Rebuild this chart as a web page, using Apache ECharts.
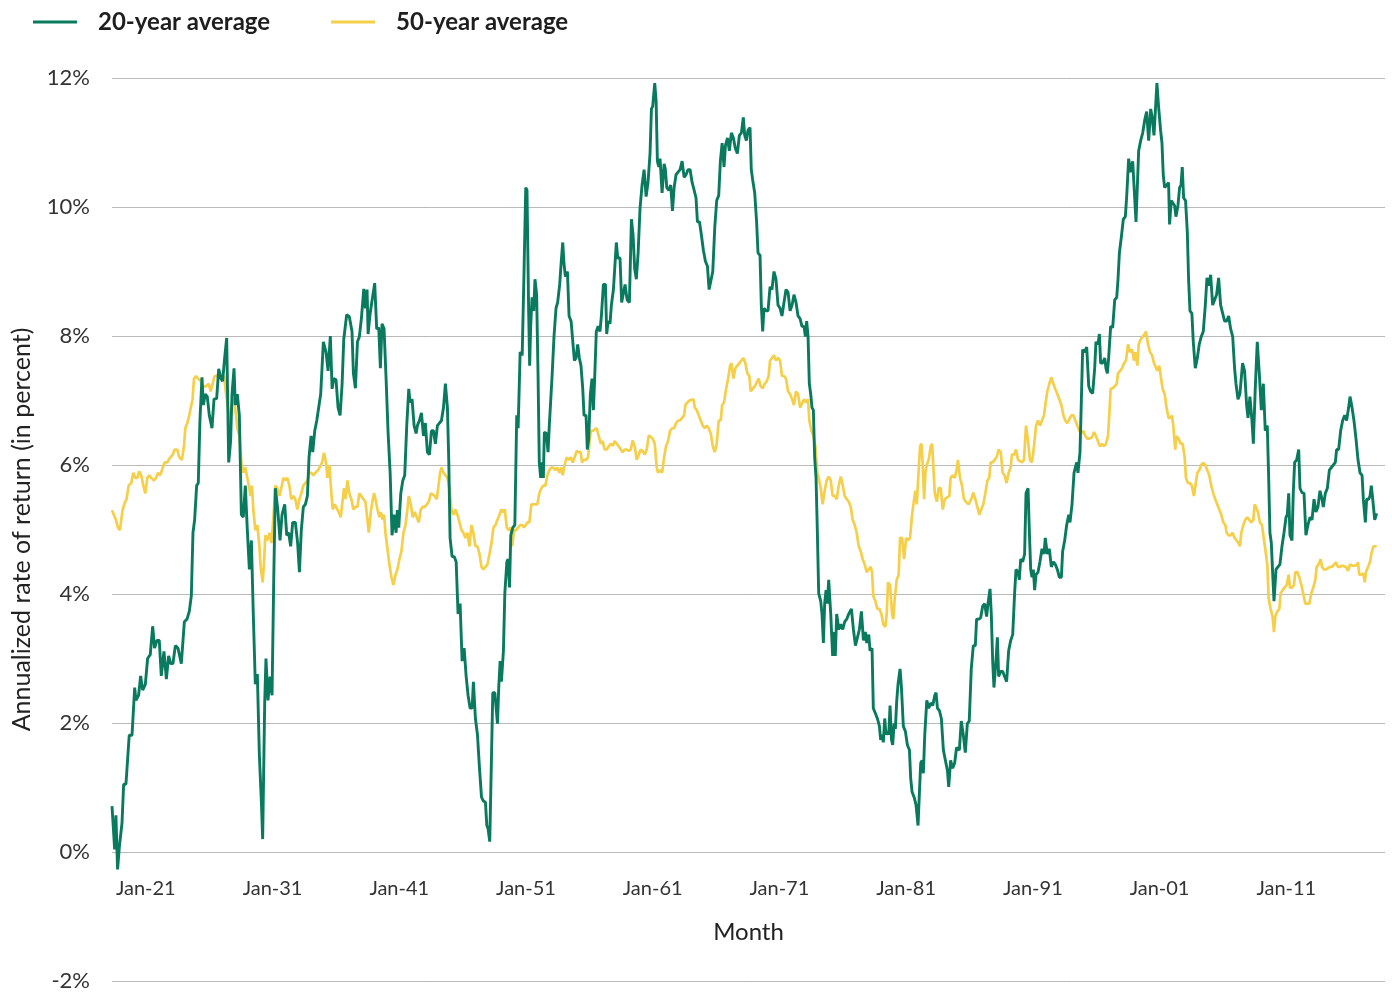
<!DOCTYPE html>
<html>
<head>
<meta charset="utf-8">
<title>20-year vs 50-year average</title>
<script src="https://cdn.jsdelivr.net/npm/echarts@6/dist/echarts.min.js"></script>
<style>
  html, body { margin: 0; padding: 0; background: #fff; }
  #chart { width: 1392px; height: 994px; }
</style>
</head>
<body>
<div id="chart"></div>
<script>
// [year, annualized return %]
const avg20 = [
  [1918.33,0.71],[1918.54,0.04],[1918.64,0.57],[1918.77,-0.27],[1918.91,0.08],[1919.12,0.45],[1919.25,1.05],[1919.43,1.05],
  [1919.69,1.81],[1919.91,1.81],[1920.12,2.55],[1920.22,2.35],[1920.43,2.43],[1920.59,2.73],[1920.75,2.51],[1920.96,2.60],
  [1921.14,3.00],[1921.35,3.06],[1921.54,3.50],[1921.69,3.16],[1921.88,3.28],[1922.06,3.28],[1922.22,2.73],[1922.43,3.11],
  [1922.62,2.68],[1922.80,3.04],[1922.96,2.92],[1923.14,2.92],[1923.33,3.20],[1923.54,3.16],[1923.80,2.92],[1924.04,3.57],
  [1924.25,3.61],[1924.43,3.73],[1924.59,3.97],[1924.72,4.95],[1924.85,5.15],[1925.01,5.68],[1925.14,5.72],[1925.27,6.69],
  [1925.43,7.36],[1925.54,6.93],[1925.69,7.10],[1925.85,7.06],[1926.01,6.77],[1926.22,6.57],[1926.38,7.02],[1926.59,7.03],
  [1926.75,7.49],[1926.93,7.34],[1927.06,7.30],[1927.22,7.66],[1927.38,7.97],[1927.54,6.04],[1927.69,6.37],[1927.80,7.10],
  [1927.96,7.50],[1928.06,6.93],[1928.22,7.10],[1928.38,6.77],[1928.54,5.23],[1928.69,5.19],[1928.85,5.68],[1929.01,4.99],
  [1929.17,4.38],[1929.33,4.83],[1929.48,3.69],[1929.64,2.60],[1929.80,2.76],[1929.96,1.50],[1930.12,0.77],[1930.22,0.20],
  [1930.38,2.31],[1930.48,3.00],[1930.64,2.35],[1930.80,2.72],[1930.96,2.43],[1931.09,4.18],[1931.22,5.64],[1931.41,5.31],
  [1931.59,4.83],[1931.75,5.23],[1931.96,5.39],[1932.12,4.91],[1932.27,4.95],[1932.43,4.74],[1932.59,5.11],[1932.80,5.11],
  [1932.98,4.79],[1933.12,4.34],[1933.27,4.99],[1933.43,5.35],[1933.59,5.39],[1933.75,5.52],[1933.88,6.12],[1934.04,6.45],
  [1934.17,6.20],[1934.33,6.53],[1934.49,6.69],[1934.64,6.71],
  [1934.80,7.10],[1935.01,7.91],[1935.22,7.75],[1935.38,7.46],[1935.56,8.00],[1935.70,7.18],[1935.83,7.34],[1936.01,7.32],
  [1936.17,6.89],[1936.33,6.77],[1936.49,7.26],[1936.62,7.95],[1936.75,7.92],[1936.85,8.33],[1937.06,8.30],[1937.27,8.07],
  [1937.38,7.42],[1937.54,7.19],[1937.70,7.91],[1937.85,7.99],[1938.01,8.27],[1938.20,8.73],[1938.33,8.43],[1938.46,8.72],
  [1938.54,8.03],[1938.70,8.35],[1938.85,8.35],[1939.06,8.82],[1939.22,8.11],[1939.38,8.13],[1939.51,7.50],[1939.64,8.19],
  [1939.80,8.11],[1939.96,7.34],[1940.12,6.49],[1940.28,5.88],[1940.43,4.91],[1940.59,5.23],[1940.75,4.95],[1940.85,5.30],
  [1940.96,5.03],[1941.12,5.56],[1941.28,5.76],[1941.43,5.84],[1941.59,6.61],[1941.75,7.18],[1941.85,6.97],[1942.01,7.02],
  [1942.17,6.61],[1942.33,6.49],[1942.43,6.61],[1942.59,6.69],[1942.75,6.81],[1942.91,6.45],[1943.06,6.65],[1943.22,6.20],
  [1943.38,6.16],[1943.54,6.53],[1943.70,6.53],[1943.85,6.33],[1944.01,6.61],[1944.17,6.65],[1944.33,6.69],[1944.49,6.89],
  [1944.64,7.26],[1944.80,6.89],[1944.91,6.04],[1945.01,4.87],[1945.17,4.58],[1945.33,4.58],[1945.49,4.50],[1945.64,3.69],
  [1945.80,3.85],[1945.96,2.96],[1946.12,3.16],[1946.28,2.72],[1946.43,2.43],[1946.59,2.23],[1946.75,2.23],[1946.85,2.64],
  [1947.01,2.07],[1947.17,1.82],[1947.33,1.30],[1947.49,0.85],[1947.64,0.79],[1947.80,0.77],[1947.91,0.41],[1948.01,0.36],
  [1948.14,0.16],[1948.28,1.50],[1948.38,2.47],[1948.54,2.47],[1948.75,1.99],[1948.85,2.55],[1948.96,2.96],[1949.06,2.64],
  [1949.22,3.12],[1949.33,4.01],[1949.49,4.50],[1949.59,4.54],[1949.70,4.10],[1949.80,4.91],[1949.96,5.03],[1950.12,5.07],
  [1950.27,6.77],[1950.38,6.57],[1950.54,7.75],[1950.70,7.70],[1950.85,9.04],
  [1950.98,10.30],[1951.08,10.26],[1951.21,8.39],[1951.29,7.54],[1951.37,8.15],[1951.48,8.60],[1951.61,8.39],[1951.71,8.88],
  [1951.84,8.64],[1951.95,7.42],[1952.05,6.04],[1952.16,5.80],[1952.27,6.04],[1952.37,5.80],[1952.45,6.51],[1952.61,6.49],
  [1952.74,6.20],[1952.84,6.61],[1952.98,6.61],[1953.06,7.38],[1953.21,7.99],[1953.37,8.43],[1953.50,8.52],[1953.66,8.80],
  [1953.77,9.12],[1953.90,9.45],[1954.00,9.12],[1954.11,8.92],[1954.27,9.00],[1954.40,8.31],[1954.56,8.23],[1954.69,8.23],
  [1954.82,7.62],[1954.95,7.66],[1955.08,7.87],[1955.21,7.66],[1955.34,7.54],[1955.48,7.18],[1955.58,6.77],[1955.74,6.77],
  [1955.84,6.24],[1955.95,6.41],[1956.08,7.10],[1956.21,7.34],[1956.32,6.85],[1956.42,7.34],[1956.55,8.07],[1956.69,8.15],
  [1956.84,8.07],[1956.95,8.31],[1957.11,8.80],[1957.27,8.80],[1957.37,8.03],[1957.48,8.23],[1957.63,8.19],[1957.74,8.48],
  [1957.90,8.72],[1958.00,8.73],[1958.13,9.45],[1958.24,9.21],[1958.42,9.21],[1958.55,8.52],[1958.69,8.52],[1958.82,8.80],
  [1958.98,8.56],[1959.16,8.52],[1959.32,9.81],[1959.45,9.57],[1959.58,9.04],[1959.71,8.88],[1959.85,9.29],[1960.00,9.98],
  [1960.16,10.34],[1960.32,10.58],[1960.48,10.16],[1960.63,10.38],[1960.79,10.83],[1960.90,11.52],[1961.00,11.56],[1961.16,11.92],
  [1961.27,11.64],[1961.37,10.71],[1961.48,10.62],[1961.58,10.75],[1961.74,10.22],[1961.90,10.67],[1962.00,10.58],[1962.11,10.30],
  [1962.27,10.26],[1962.42,10.34],[1962.56,9.94],[1962.69,10.30],[1962.84,10.50],[1963.00,10.54],[1963.16,10.58],[1963.32,10.71],
  [1963.48,10.46],[1963.63,10.50],[1963.79,10.58],[1963.95,10.58],[1964.11,10.38],[1964.27,10.26],[1964.42,10.14],[1964.53,9.77],
  [1964.69,9.77],[1964.84,9.57],[1965.00,9.33],[1965.16,9.16],[1965.32,9.08],[1965.45,8.72],[1965.58,8.72],[1965.74,9.00],
  [1965.90,9.69],[1966.05,10.10],[1966.21,10.18],[1966.34,10.71],[1966.48,10.99],[1966.63,10.62],[1966.74,10.95],[1966.90,11.07],
  [1967.05,10.87],[1967.21,11.15],[1967.37,11.07],
  [1967.52,10.91],[1967.68,10.83],[1967.84,11.11],[1968.00,11.15],[1968.15,11.39],[1968.26,11.11],[1968.39,11.03],[1968.52,11.19],
  [1968.68,11.23],[1968.78,10.58],[1968.89,10.42],[1969.05,10.22],[1969.20,9.77],[1969.31,9.29],[1969.47,9.25],[1969.57,8.48],
  [1969.68,8.07],[1969.78,8.43],[1969.94,8.39],[1970.10,8.39],[1970.26,8.76],[1970.41,8.72],[1970.57,9.00],[1970.73,8.88],
  [1970.89,8.48],[1971.05,8.43],[1971.20,8.31],[1971.36,8.52],[1971.52,8.72],[1971.68,8.68],[1971.84,8.39],[1972.00,8.48],
  [1972.15,8.64],[1972.31,8.52],[1972.47,8.31],[1972.63,8.27],[1972.78,8.15],[1972.94,8.15],[1973.05,7.99],[1973.15,8.23],
  [1973.26,7.99],[1973.36,7.26],[1973.47,7.10],[1973.57,6.89],[1973.68,6.85],[1973.78,6.12],[1973.89,5.80],[1973.99,4.99],
  [1974.10,4.01],[1974.26,3.89],[1974.36,3.69],[1974.47,3.24],[1974.57,3.85],[1974.68,4.06],[1974.78,3.85],[1974.89,4.22],
  [1975.05,3.69],[1975.20,3.04],[1975.31,3.41],[1975.41,3.04],[1975.52,3.69],[1975.68,3.45],[1975.84,3.53],[1976.00,3.45],
  [1976.15,3.57],[1976.31,3.61],[1976.47,3.69],[1976.68,3.77],[1976.84,3.45],[1977.00,3.20],[1977.15,3.20],[1977.31,3.45],
  [1977.47,3.73],[1977.63,3.28],[1977.78,3.41],[1977.89,3.24],[1978.05,3.37],[1978.15,3.12],[1978.31,3.16],[1978.41,2.23],
  [1978.57,2.15],[1978.73,2.07],[1978.89,1.95],[1978.99,1.74],[1979.10,1.82],[1979.20,1.70],[1979.31,2.07],[1979.41,1.82],
  [1979.52,1.87],[1979.63,1.82],[1979.73,2.27],[1979.84,1.74],[1979.94,1.66],[1980.05,1.99],[1980.15,1.91],[1980.26,2.35],
  [1980.36,2.60],[1980.52,2.84],[1980.63,2.55],[1980.78,1.95],[1980.94,1.87],[1981.10,1.66],[1981.26,1.58],[1981.36,1.14],
  [1981.47,0.93],[1981.63,0.85],[1981.78,0.73],[1981.94,0.41],[1982.05,0.93],[1982.15,1.38],[1982.26,1.42],[1982.36,1.22],
  [1982.47,1.82],[1982.63,2.35],[1982.78,2.23],[1982.94,2.31],[1983.10,2.27],[1983.26,2.43],[1983.36,2.47],[1983.47,2.23],
  [1983.63,2.19],[1983.78,2.07],[1983.94,1.58],[1984.10,1.42],[1984.26,1.26],[1984.36,1.01],
  [1984.51,1.42],[1984.67,1.30],[1984.83,1.38],[1984.98,1.62],[1985.20,1.58],[1985.35,2.03],[1985.51,1.82],[1985.67,1.54],
  [1985.83,1.99],[1985.98,2.03],[1986.14,2.84],[1986.30,3.20],[1986.46,3.20],[1986.56,3.61],[1986.72,3.61],[1986.88,3.63],
  [1987.04,3.81],[1987.20,3.85],[1987.35,3.65],[1987.46,3.85],[1987.62,4.08],[1987.72,3.69],[1987.83,2.96],[1987.93,2.55],
  [1988.09,2.96],[1988.20,3.33],[1988.30,2.72],[1988.46,2.80],[1988.62,2.80],[1988.77,2.72],[1988.93,2.64],[1989.09,3.12],
  [1989.25,3.28],[1989.41,3.37],[1989.56,4.01],[1989.67,4.38],[1989.83,4.34],[1989.93,4.22],[1990.04,4.54],[1990.20,4.50],
  [1990.35,4.62],[1990.46,5.56],[1990.62,5.64],[1990.72,4.99],[1990.83,4.38],[1990.93,4.26],[1991.04,4.38],[1991.14,4.06],
  [1991.25,4.30],[1991.41,4.34],[1991.56,4.50],[1991.72,4.70],[1991.88,4.62],[1991.98,4.87],[1992.14,4.62],[1992.30,4.70],
  [1992.46,4.42],[1992.62,4.50],[1992.77,4.46],[1992.93,4.38],[1993.09,4.26],[1993.25,4.26],[1993.35,4.66],[1993.51,4.83],
  [1993.67,5.07],[1993.83,5.23],[1993.93,5.11],[1994.09,5.39],[1994.25,5.88],[1994.35,5.88],[1994.46,6.04],[1994.56,5.88],
  [1994.72,6.20],[1994.83,7.02],[1994.93,7.79],[1995.09,7.75],[1995.25,7.83],[1995.41,7.22],[1995.56,7.14],[1995.72,7.11],
  [1995.88,7.50],[1995.98,7.91],[1996.14,7.87],[1996.25,8.03],[1996.35,7.58],[1996.51,7.58],[1996.67,7.66],[1996.77,7.50],
  [1996.88,7.42],[1996.98,7.66],[1997.14,8.15],[1997.30,8.13],[1997.46,8.56],[1997.62,8.60],[1997.72,8.88],[1997.83,9.29],
  [1997.98,9.53],[1998.14,9.81],[1998.30,9.85],[1998.41,10.18],[1998.56,10.75],[1998.72,10.54],[1998.88,10.71],[1998.98,10.34],
  [1999.14,9.77],[1999.25,10.34],[1999.35,10.87],[1999.51,11.03],[1999.67,11.15],[1999.83,11.35],[1999.98,11.48],[2000.14,11.03],
  [2000.30,11.52],[2000.41,11.40],[2000.56,11.11],
  [2000.79,11.92],[2000.92,11.56],[2001.08,11.19],[2001.19,10.99],[2001.29,10.50],[2001.40,10.30],[2001.56,10.34],[2001.71,10.38],
  [2001.79,9.73],[2001.92,10.10],[2002.05,10.10],[2002.19,10.02],[2002.29,9.85],[2002.45,10.02],[2002.58,10.30],[2002.69,10.34],
  [2002.79,10.62],[2002.90,10.14],[2003.05,10.10],[2003.19,9.61],[2003.29,8.88],[2003.40,8.39],[2003.55,8.35],[2003.66,7.91],
  [2003.82,7.50],[2003.98,7.66],[2004.13,7.87],[2004.29,7.99],[2004.45,8.07],[2004.61,8.48],[2004.74,8.90],[2004.90,8.78],
  [2005.03,8.95],[2005.19,8.48],[2005.34,8.56],[2005.50,8.64],[2005.66,8.90],[2005.82,8.48],[2005.98,8.35],[2006.13,8.23],
  [2006.29,8.23],[2006.45,8.31],[2006.61,8.11],[2006.77,7.99],[2006.92,7.50],[2007.03,7.26],[2007.19,7.02],[2007.34,7.10],
  [2007.55,7.58],[2007.71,7.46],[2007.87,6.93],[2007.98,6.73],[2008.13,7.06],[2008.29,6.69],[2008.40,6.33],[2008.55,7.18],
  [2008.71,7.91],[2008.87,7.42],[2009.03,6.85],[2009.19,7.26],[2009.34,6.53],[2009.50,6.61],[2009.61,5.80],[2009.71,4.95],
  [2009.82,4.79],[2009.92,4.34],[2010.03,3.89],[2010.19,4.38],[2010.34,4.38],[2010.50,4.46],[2010.66,4.74],[2010.82,4.95],
  [2010.98,5.19],[2011.08,5.23],[2011.19,5.56],[2011.29,4.91],[2011.45,4.83],[2011.55,5.56],[2011.66,6.04],[2011.82,6.08],
  [2011.98,6.24],[2012.08,5.64],[2012.24,5.57],[2012.40,5.56],[2012.55,4.91],[2012.71,5.07],[2012.87,5.19],[2013.03,5.15],
  [2013.19,5.47],[2013.34,5.27],[2013.50,5.35],[2013.66,5.60],[2013.82,5.47],[2013.92,5.35],[2014.08,5.56],[2014.24,5.64],
  [2014.40,5.92],[2014.55,5.92],[2014.71,6.00],[2014.87,6.04],[2014.97,6.24],[2015.13,6.24],[2015.29,6.53],[2015.45,6.69],
  [2015.61,6.77],[2015.76,6.69],[2015.92,6.89],[2016.03,7.06],[2016.19,6.89],[2016.34,6.69],[2016.50,6.41],[2016.66,6.08],
  [2016.82,5.88],[2016.98,5.84],[2017.08,5.47],[2017.24,5.11],[2017.34,5.47],[2017.50,5.47],[2017.61,5.52],[2017.71,5.68],
  [2017.82,5.47],[2017.98,5.15],[2018.13,5.25]
];

const avg50 = [
  [1918.33,5.30],[1918.48,5.27],[1918.64,5.15],[1918.80,5.03],[1918.96,4.99],[1919.06,5.15],[1919.17,5.31],[1919.33,5.41],
  [1919.48,5.47],[1919.64,5.68],[1919.85,5.72],[1920.01,5.88],[1920.17,5.80],[1920.33,5.80],[1920.48,5.90],[1920.64,5.84],
  [1920.80,5.68],[1920.96,5.56],[1921.12,5.80],[1921.27,5.84],[1921.43,5.80],[1921.64,5.76],[1921.80,5.80],[1921.96,5.88],
  [1922.12,5.84],[1922.27,5.92],[1922.48,6.04],[1922.69,6.04],[1922.90,6.11],[1923.12,6.16],[1923.27,6.24],[1923.48,6.24],
  [1923.64,6.12],[1923.85,6.08],[1924.01,6.29],[1924.12,6.57],[1924.27,6.65],[1924.43,6.77],[1924.59,6.93],[1924.69,7.02],
  [1924.80,7.34],[1924.96,7.38],[1925.12,7.34],[1925.33,7.30],[1925.54,7.22],[1925.75,7.22],[1925.96,7.26],[1926.12,7.14],
  [1926.27,7.26],[1926.43,7.38],[1926.59,7.38],[1926.80,7.42],[1927.01,7.34],[1927.17,7.38],[1927.33,7.10],[1927.48,6.89],
  [1927.64,6.61],[1927.80,6.93],[1927.96,7.02],[1928.12,6.77],[1928.22,6.57],[1928.38,6.45],[1928.54,6.04],[1928.69,5.88],
  [1928.85,5.96],[1929.01,5.80],[1929.17,5.64],[1929.27,5.52],[1929.38,5.68],[1929.48,5.31],[1929.64,4.99],[1929.80,5.07],
  [1929.96,4.74],[1930.06,4.42],[1930.22,4.18],[1930.33,4.50],[1930.43,4.91],[1930.59,4.83],[1930.75,4.95],[1930.91,4.79],
  [1931.06,5.15],[1931.22,5.68],[1931.38,5.64],[1931.54,5.52],[1931.69,5.64],[1931.85,5.80],[1932.01,5.76],[1932.17,5.80],
  [1932.33,5.68],[1932.48,5.47],[1932.64,5.52],[1932.80,5.47],[1932.96,5.31],[1933.12,5.47],[1933.27,5.56],[1933.43,5.68],
  [1933.59,5.72],[1933.75,5.76],[1933.90,5.88],[1934.06,5.88],[1934.22,5.84],
  [1934.38,5.88],[1934.59,5.92],[1934.75,5.98],[1934.91,6.04],[1935.06,6.19],[1935.22,6.04],[1935.33,5.80],[1935.49,6.00],
  [1935.64,5.56],[1935.75,5.31],[1935.91,5.39],[1936.06,5.39],[1936.22,5.27],[1936.38,5.19],[1936.54,5.47],[1936.64,5.64],
  [1936.75,5.47],[1936.91,5.76],[1937.06,5.56],[1937.22,5.47],[1937.38,5.31],[1937.54,5.35],[1937.70,5.35],[1937.85,5.56],
  [1938.01,5.52],[1938.17,5.47],[1938.33,5.43],[1938.49,5.15],[1938.59,4.95],[1938.75,5.27],[1938.91,5.47],[1939.01,5.56],
  [1939.12,5.47],[1939.28,5.31],[1939.43,5.19],[1939.54,5.27],[1939.70,5.15],[1939.80,5.23],[1939.91,4.95],[1940.07,4.70],
  [1940.22,4.46],[1940.38,4.26],[1940.54,4.14],[1940.70,4.30],[1940.85,4.38],[1941.01,4.54],[1941.17,4.66],[1941.33,4.95],
  [1941.49,5.07],[1941.64,5.31],[1941.75,5.52],[1941.91,5.39],[1942.06,5.19],[1942.22,5.27],[1942.38,5.19],[1942.54,5.11],
  [1942.70,5.31],[1942.85,5.35],[1943.01,5.35],[1943.17,5.39],[1943.33,5.43],[1943.49,5.56],[1943.64,5.57],[1943.80,5.52],
  [1943.96,5.47],[1944.12,5.72],[1944.22,5.88],[1944.33,5.96],[1944.49,5.88],[1944.64,5.88],[1944.80,5.80],[1944.96,5.64],
  [1945.12,5.31],[1945.28,5.23],[1945.43,5.31],[1945.59,5.23],[1945.75,5.11],[1945.91,4.99],[1946.06,4.95],[1946.22,4.87],
  [1946.38,4.95],[1946.54,4.74],[1946.70,5.07],[1946.85,4.95],[1947.01,4.74],[1947.17,4.74],[1947.33,4.62],[1947.49,4.42],
  [1947.64,4.38],[1947.80,4.42],[1947.96,4.46],[1948.12,4.62],[1948.28,4.79],[1948.43,5.03],[1948.59,5.07],[1948.75,5.15],
  [1948.91,5.23],[1949.06,5.31],[1949.22,5.27],[1949.33,5.31],[1949.49,5.03],[1949.64,4.99],[1949.80,5.03],[1949.91,4.74],
  [1950.06,4.99],[1950.22,4.99],[1950.38,5.03],[1950.54,5.07],[1950.70,5.07],[1950.85,5.03],
  [1951.11,5.11],[1951.27,5.11],[1951.42,5.39],[1951.58,5.39],[1951.74,5.39],[1951.90,5.39],[1952.05,5.56],[1952.21,5.64],
  [1952.37,5.68],[1952.53,5.68],[1952.69,5.84],[1952.84,5.92],[1953.00,5.96],[1953.16,5.96],[1953.32,5.92],[1953.48,5.96],
  [1953.63,5.88],[1953.79,5.96],[1953.90,5.84],[1954.05,6.00],[1954.21,6.12],[1954.37,6.08],[1954.53,6.12],[1954.69,6.04],
  [1954.84,6.12],[1955.00,6.22],[1955.16,6.20],[1955.32,6.20],[1955.42,6.04],[1955.58,6.08],[1955.74,6.08],[1955.90,6.12],
  [1956.00,6.33],[1956.11,6.53],[1956.27,6.53],[1956.42,6.51],[1956.58,6.57],[1956.74,6.45],[1956.90,6.33],[1957.05,6.37],
  [1957.21,6.24],[1957.37,6.24],[1957.53,6.29],[1957.69,6.33],[1957.85,6.30],[1958.00,6.37],[1958.16,6.33],[1958.32,6.29],
  [1958.48,6.24],[1958.63,6.20],[1958.79,6.24],[1958.95,6.24],[1959.11,6.22],[1959.27,6.24],[1959.42,6.38],[1959.58,6.29],
  [1959.74,6.08],[1959.90,6.16],[1960.05,6.24],[1960.21,6.22],[1960.37,6.16],[1960.53,6.24],[1960.69,6.46],[1960.84,6.45],
  [1961.00,6.41],[1961.16,6.33],[1961.32,5.96],[1961.42,5.88],[1961.58,5.92],[1961.74,5.88],[1961.90,6.12],[1962.05,6.29],
  [1962.21,6.37],[1962.37,6.53],[1962.53,6.57],[1962.69,6.57],[1962.84,6.65],[1963.00,6.69],[1963.16,6.69],[1963.32,6.73],
  [1963.48,6.77],[1963.58,6.93],[1963.74,6.97],[1963.90,7.00],[1964.05,7.02],[1964.21,7.02],[1964.32,6.89],[1964.48,6.85],
  [1964.63,6.77],[1964.79,6.69],[1964.95,6.61],[1965.11,6.57],[1965.26,6.61],[1965.42,6.57],[1965.58,6.49],[1965.74,6.29],
  [1965.90,6.20],[1966.05,6.33],[1966.21,6.69],[1966.37,6.69],[1966.48,6.93],[1966.63,6.97],[1966.79,7.18],[1966.95,7.34],
  [1967.11,7.54],[1967.21,7.58],[1967.37,7.34],
  [1967.52,7.50],[1967.68,7.54],[1967.84,7.58],[1968.00,7.62],[1968.15,7.66],[1968.31,7.58],[1968.47,7.42],[1968.63,7.38],
  [1968.73,7.14],[1968.89,7.18],[1969.05,7.22],[1969.20,7.19],[1969.36,7.34],[1969.52,7.22],[1969.68,7.19],[1969.84,7.26],
  [1970.00,7.30],[1970.15,7.38],[1970.26,7.62],[1970.41,7.62],[1970.57,7.70],[1970.73,7.62],[1970.89,7.66],[1971.05,7.62],
  [1971.20,7.38],[1971.36,7.38],[1971.52,7.34],[1971.68,7.14],[1971.84,7.10],[1972.00,7.02],[1972.15,6.93],[1972.31,7.14],
  [1972.47,7.10],[1972.63,6.89],[1972.78,6.89],[1972.94,7.02],[1973.10,6.97],[1973.26,7.02],[1973.36,6.69],[1973.52,6.53],
  [1973.68,6.45],[1973.84,6.29],[1973.99,5.88],[1974.10,5.80],[1974.26,5.64],[1974.41,5.39],[1974.57,5.60],[1974.73,5.76],
  [1974.89,5.82],[1975.05,5.76],[1975.20,5.52],[1975.36,5.52],[1975.52,5.47],[1975.68,5.68],[1975.84,5.82],[1976.00,5.68],
  [1976.15,5.52],[1976.31,5.47],[1976.47,5.43],[1976.63,5.35],[1976.78,5.15],[1976.94,5.07],[1977.10,4.95],[1977.26,4.74],
  [1977.42,4.66],[1977.57,4.54],[1977.73,4.46],[1977.89,4.34],[1978.05,4.38],[1978.20,4.42],[1978.31,4.34],[1978.41,3.97],
  [1978.57,3.89],[1978.73,3.77],[1978.89,3.77],[1979.05,3.69],[1979.20,3.53],[1979.36,3.49],[1979.47,3.69],[1979.57,4.18],
  [1979.73,4.14],[1979.89,3.69],[1979.99,3.61],[1980.10,3.93],[1980.26,4.22],[1980.41,4.30],[1980.52,4.87],[1980.68,4.87],
  [1980.84,4.54],[1981.00,4.87],[1981.15,4.83],[1981.31,4.87],[1981.47,5.23],[1981.63,5.47],[1981.73,5.60],[1981.84,5.39],
  [1982.00,5.96],[1982.10,6.29],[1982.21,6.33],[1982.31,6.00],[1982.42,5.47],[1982.52,5.88],[1982.63,6.00],[1982.78,6.08],
  [1982.94,6.29],[1983.05,6.33],[1983.15,5.96],[1983.26,5.56],[1983.42,5.43],[1983.57,5.64],[1983.73,5.64],[1983.89,5.31],
  [1984.05,5.47],[1984.20,5.47],
  [1984.41,5.52],[1984.51,5.80],[1984.67,5.84],[1984.83,5.80],[1984.98,5.92],[1985.09,6.08],[1985.25,5.80],[1985.41,5.68],
  [1985.56,5.47],[1985.72,5.43],[1985.93,5.39],[1986.14,5.47],[1986.30,5.57],[1986.46,5.47],[1986.62,5.35],[1986.77,5.23],
  [1986.93,5.31],[1987.09,5.39],[1987.25,5.56],[1987.41,5.76],[1987.56,5.80],[1987.67,6.04],[1987.83,6.04],[1987.98,6.08],
  [1988.14,6.12],[1988.30,6.24],[1988.46,6.20],[1988.62,5.88],[1988.77,5.84],[1988.93,5.72],[1989.09,5.88],[1989.25,5.96],
  [1989.35,6.16],[1989.51,6.16],[1989.67,6.24],[1989.83,6.08],[1989.98,6.08],[1990.14,6.04],[1990.30,6.08],[1990.46,6.61],
  [1990.62,6.37],[1990.77,6.08],[1990.93,6.04],[1991.09,6.29],[1991.25,6.61],[1991.41,6.69],[1991.56,6.61],[1991.72,6.69],
  [1991.88,6.77],[1991.98,6.93],[1992.14,7.14],[1992.30,7.26],[1992.46,7.36],[1992.62,7.26],[1992.77,7.18],[1992.93,7.10],
  [1993.09,7.02],[1993.25,6.93],[1993.41,6.77],[1993.56,6.69],[1993.72,6.65],[1993.88,6.71],[1994.04,6.77],[1994.20,6.77],
  [1994.35,6.69],[1994.51,6.61],[1994.67,6.53],[1994.83,6.49],[1994.98,6.53],[1995.14,6.45],[1995.30,6.41],[1995.46,6.41],
  [1995.67,6.43],[1995.83,6.51],[1995.98,6.45],[1996.14,6.37],[1996.30,6.29],[1996.46,6.33],[1996.62,6.29],[1996.77,6.33],
  [1996.93,6.45],[1997.04,6.81],[1997.14,7.18],[1997.30,7.19],[1997.46,7.22],[1997.62,7.26],[1997.72,7.42],[1997.88,7.46],
  [1998.04,7.50],[1998.20,7.58],[1998.35,7.62],[1998.51,7.87],[1998.67,7.75],[1998.83,7.79],[1998.98,7.62],[1999.09,7.75],
  [1999.25,7.54],[1999.35,7.87],[1999.51,7.95],[1999.67,7.99],[1999.83,8.03],[1999.93,8.07],[2000.09,7.87],[2000.25,7.75],
  [2000.41,7.70],[2000.56,7.58],
  [2000.82,7.46],[2000.97,7.54],[2001.11,7.57],[2001.24,7.18],[2001.40,7.10],[2001.55,6.89],[2001.71,6.73],[2001.87,6.73],
  [2001.98,6.77],[2002.08,6.61],[2002.24,6.24],[2002.34,6.45],[2002.50,6.41],[2002.66,6.33],[2002.82,6.33],[2002.98,6.12],
  [2003.08,5.80],[2003.24,5.72],[2003.40,5.72],[2003.55,5.68],[2003.71,5.52],[2003.82,5.52],[2003.98,5.88],[2004.13,5.92],
  [2004.29,6.00],[2004.45,6.03],[2004.61,6.00],[2004.76,6.03],[2004.92,5.84],[2005.08,5.68],[2005.24,5.56],[2005.40,5.47],
  [2005.55,5.39],[2005.71,5.31],[2005.87,5.23],[2006.03,5.11],[2006.19,5.07],[2006.29,4.95],[2006.45,4.91],[2006.61,4.91],
  [2006.76,4.95],[2006.92,4.87],[2007.08,4.83],[2007.24,4.79],[2007.34,4.74],[2007.45,4.95],[2007.61,5.07],[2007.76,5.15],
  [2007.92,5.19],[2008.08,5.15],[2008.24,5.11],[2008.40,5.15],[2008.50,5.39],[2008.61,5.35],[2008.76,5.27],[2008.92,5.11],
  [2009.08,5.07],[2009.19,5.07],[2009.34,4.70],[2009.50,4.46],[2009.61,3.93],[2009.76,3.77],[2009.92,3.65],[2010.03,3.41],
  [2010.13,3.65],[2010.29,3.73],[2010.45,3.77],[2010.55,4.01],[2010.71,4.06],[2010.87,4.10],[2011.03,4.14],[2011.19,4.30],
  [2011.29,4.10],[2011.45,4.10],[2011.61,4.14],[2011.71,4.34],[2011.87,4.34],[2012.03,4.26],[2012.19,4.14],[2012.34,4.14],
  [2012.50,3.85],[2012.66,3.85],[2012.82,3.85],[2012.97,4.01],[2013.13,4.10],[2013.29,4.22],[2013.40,4.42],[2013.55,4.46],
  [2013.71,4.54],[2013.82,4.42],[2013.97,4.38],[2014.13,4.38],[2014.29,4.40],[2014.45,4.42],[2014.61,4.42],[2014.76,4.44],
  [2014.92,4.49],[2015.08,4.42],[2015.24,4.42],[2015.40,4.44],[2015.55,4.42],[2015.71,4.42],[2015.87,4.36],[2016.03,4.46],
  [2016.19,4.44],[2016.34,4.44],[2016.50,4.44],[2016.66,4.49],[2016.76,4.30],[2016.92,4.30],[2017.08,4.32],[2017.19,4.18],
  [2017.29,4.34],[2017.45,4.42],[2017.61,4.50],[2017.71,4.62],[2017.87,4.74],[2018.03,4.74],[2018.13,4.73]
];

const labelYears = [1921, 1931, 1941, 1951, 1961, 1971, 1981, 1991, 2001, 2011];

const chart = echarts.init(document.getElementById('chart'));

const font = 'Lato, "Open Sans", sans-serif';

const option = {
  animation: false,
  backgroundColor: '#fff',
  textStyle: { fontFamily: font },
  legend: {
    left: 28,
    top: 5,
    icon: 'rect',
    itemWidth: 44,
    itemHeight: 3,
    itemGap: 61,
    data: ['20-year average', '50-year average'],
    textStyle: {
      fontFamily: font,
      fontWeight: 'bold',
      fontSize: 24,
      color: '#1e1e1e',
      padding: [0, 0, 0, 16]
    }
  },
  grid: { left: 112, right: 7, top: 78, bottom: 13, containLabel: false, outerBoundsMode: 'none' },
  xAxis: {
    type: 'value',
    min: 1918.33,
    max: 2018.79,
    position: 'bottom',
    // move the axis (labels + name) up from -2% to the 0% line: 2 points = 129 px
    offset: -129,
    axisLine: { show: false, onZero: false },
    axisTick: { show: false },
    splitLine: { show: false },
    axisLabel: {
      customValues: labelYears,
      formatter: v => 'Jan-' + String(Math.round(v) % 100).padStart(2, '0'),
      margin: 27,
      fontSize: 20,
      color: '#333',
      fontFamily: font
    },
    name: 'Month',
    nameLocation: 'middle',
    nameGap: 68,
    nameTextStyle: { fontSize: 24, color: '#222', fontFamily: font }
  },
  yAxis: {
    type: 'value',
    min: -2,
    max: 12,
    interval: 2,
    axisLine: { show: false },
    axisTick: { show: false },
    axisLabel: {
      formatter: '{value}%',
      margin: 22,
      fontSize: 22,
      color: '#333',
      fontFamily: font
    },
    splitLine: { lineStyle: { color: '#b9b9b9', width: 1 } },
    name: 'Annualized rate of return (in percent)',
    nameLocation: 'middle',
    nameGap: 78,
    nameTextStyle: { fontSize: 25, color: '#222', fontFamily: font }
  },
  series: [
    {
      name: '20-year average',
      type: 'line',
      data: avg20,
      showSymbol: false,
      symbol: 'none',
      z: 3,
      lineStyle: { color: '#0a7a5e', width: 2.9 },
      itemStyle: { color: '#0a7a5e' }
    },
    {
      name: '50-year average',
      type: 'line',
      data: avg50,
      showSymbol: false,
      symbol: 'none',
      z: 2,
      lineStyle: { color: '#f5cf4a', width: 2.7 },
      itemStyle: { color: '#f5cf4a' }
    }
  ]
};

chart.setOption(option);
</script>
</body>
</html>
